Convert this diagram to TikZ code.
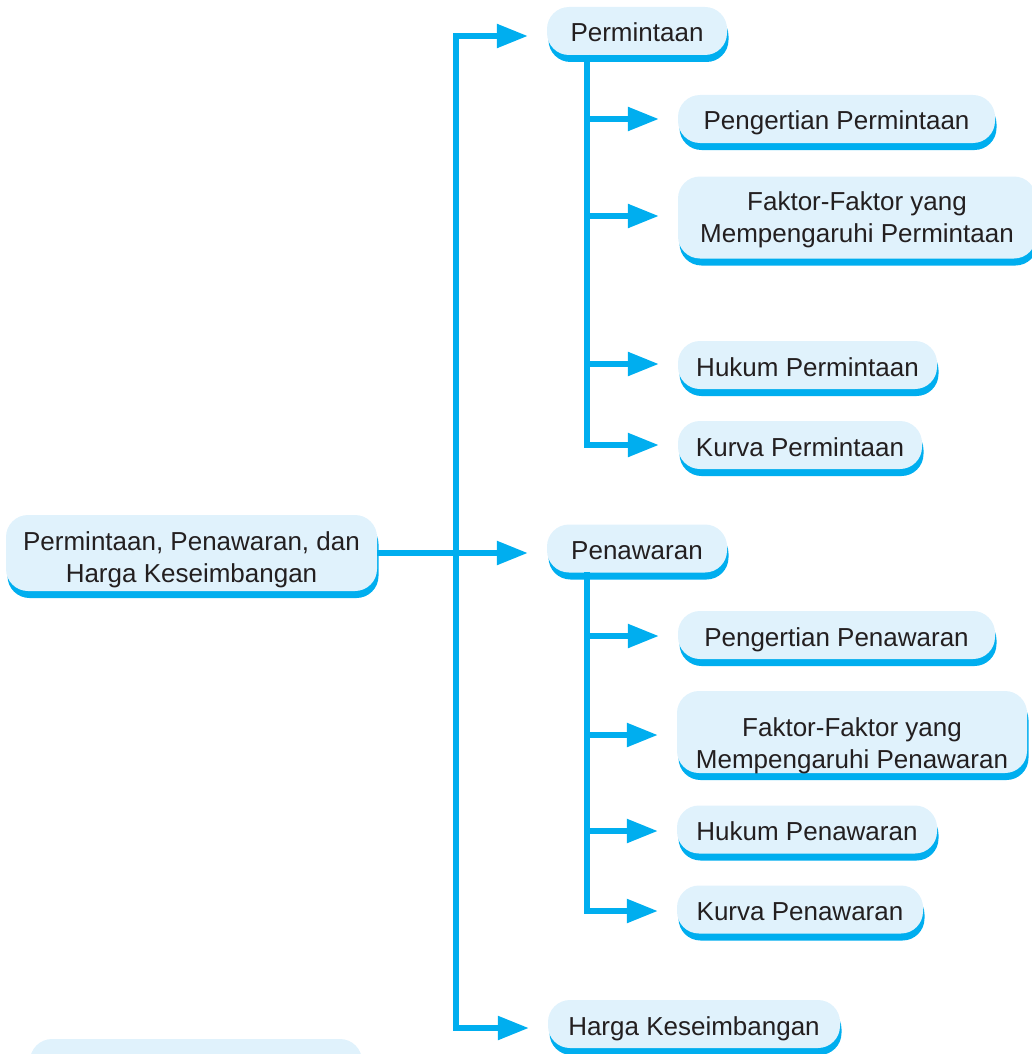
\documentclass[tikz,border=0pt]{standalone}
\usepackage{fontspec}
\setmainfont{Liberation Sans}
\usetikzlibrary{arrows.meta,shadows}
\definecolor{boxfill}{HTML}{E0F2FC}
\definecolor{boxline}{HTML}{00AEEF}
\definecolor{ink}{HTML}{231F20}
\tikzset{
    box/.style={
           rectangle,
           rounded corners=22pt,
           fill=boxfill,
           text=ink,
           inner sep=0pt,
           align=center,
           font=\fontsize{26}{32}\selectfont,
           drop shadow={fill=boxline, opacity=1, shadow xshift=1.5pt, shadow yshift=-7pt},
           },
    one/.style={
           minimum height=48pt,
           text height=22pt,
           text depth=0pt
           },
    two/.style={
           minimum height=82pt,
           text depth=0pt
           },
    line/.style={
           draw=boxline,
           line width=5.5pt,
           shorten >=19pt
           },
}

\begin{document}
\begin{tikzpicture}[x=1pt, y=-1pt, >={Triangle[length=31pt,width=23pt]}]
   \useasboundingbox (0,0) rectangle (1031,1054);

   % main topic
   \node[box, two, minimum width=371pt, minimum height=76pt, text height=58pt] (main) at (191.5,553) {Permintaan, Penawaran, dan\\Harga Keseimbangan};
   \node[box, minimum width=332pt, minimum height=76pt] (next) at (196,1077) {};

   % first level
   \node[box, one, minimum width=180pt] (pm) at (637,31) {Permintaan};
   \node[box, one, minimum width=180pt] (pw) at (637,548.5) {Penawaran};
   \node[box, one, minimum width=292pt] (hk) at (694,1024) {Harga Keseimbangan};

   % permintaan
   \node[box, one, minimum width=317pt] (p1) at (836.5,119) {Pengertian Permintaan};
   \node[box, two, minimum width=358pt, text height=50pt] (f1) at (857,217.5) {Faktor-Faktor yang\\Mempengaruhi Permintaan};
   \node[box, one, minimum width=259pt] (h1) at (807.5,365) {Hukum Permintaan};
   \node[box, one, minimum width=244pt] (k1) at (800,445) {Kurva Permintaan};

   % penawaran
   \node[box, one, minimum width=317pt] (p2) at (836.5,635) {Pengertian Penawaran};
   \node[box, two, minimum width=350pt, text height=72pt] (f2) at (852,732) {Faktor-Faktor yang\\Mempengaruhi Penawaran};
   \node[box, one, minimum width=260pt] (h2) at (807,829.5) {Hukum Penawaran};
   \node[box, one, minimum width=246pt] (k2) at (800,909.5) {Kurva Penawaran};

   % trunk points
   \coordinate (a0) at (456,36);
   \coordinate (a1) at (456,1028);
   \coordinate (b0) at (587,55);
   \coordinate (b1) at (587,119);
   \coordinate (b2) at (587,216);
   \coordinate (b3) at (587,364);
   \coordinate (b4) at (587,445);
   \coordinate (c0) at (587,572);
   \coordinate (c1) at (587,636);
   \coordinate (c2) at (587,735);
   \coordinate (c3) at (587,831);
   \coordinate (c4) at (587,911);

   \draw[line,<->,shorten <=19pt] (a0 -| pm.west) -- (a0) -- (a1) -- (a1 -| hk.west);
   \draw[line,->] (main.east) -- (main.east -| pw.west);

   \draw[line,->] (b0) -- (b4) -- (b4 -| k1.west);
   \draw[line,->] (c0) -- (c4) -- (c4 -| k2.west);
   \foreach \j/\n in {b1/p1,b2/f1,b3/h1,c1/p2,c2/f2,c3/h2}
      \draw[line,->] (\j) -- (\j -| \n.west);
\end{tikzpicture}
\end{document}
